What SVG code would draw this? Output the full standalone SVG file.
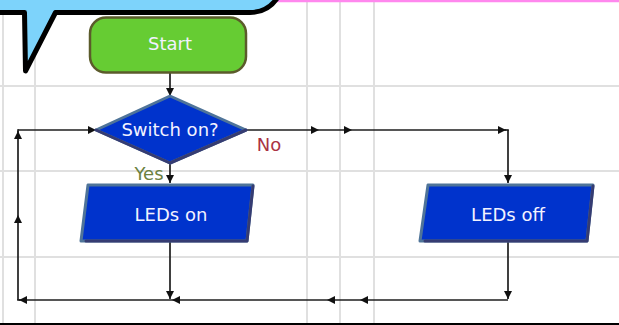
<svg xmlns="http://www.w3.org/2000/svg" width="619" height="325" viewBox="0 0 619 325">
  <style>
    .grid { stroke: #e0e0e0; stroke-width: 2; fill: none; }
    .wire { stroke: #1e1e1e; stroke-width: 1.7; fill: none; marker-end: url(#head); }
    .plain { stroke: #1e1e1e; stroke-width: 1.7; fill: none; }
    .label { font-family: "DejaVu Sans", Verdana, sans-serif; font-size: 18px; fill: #f2f2ff; text-anchor: middle; }
    .io { fill: #0033cc; stroke: #4f7499; stroke-width: 3; stroke-linejoin: round; }
    .shade { fill: none; stroke: #363c72; stroke-width: 3; stroke-linejoin: round; stroke-linecap: round; }
  </style>
  <defs>
    <marker id="head" markerUnits="userSpaceOnUse" markerWidth="9" markerHeight="9" refX="8" refY="4" orient="auto">
      <path d="M0,0 L8,4 L0,8 Z" fill="#111"/>
    </marker>
  </defs>

  <rect width="619" height="325" fill="#ffffff"/>

  <!-- background grid -->
  <g id="grid">
    <line class="grid" x1="3" y1="0" x2="3" y2="325"/>
    <line class="grid" x1="35" y1="0" x2="35" y2="325"/>
    <line class="grid" x1="307" y1="0" x2="307" y2="325"/>
    <line class="grid" x1="340" y1="0" x2="340" y2="325"/>
    <line class="grid" x1="374" y1="0" x2="374" y2="325"/>
    <line class="grid" x1="0" y1="86" x2="619" y2="86"/>
    <line class="grid" x1="0" y1="171" x2="619" y2="171"/>
    <line class="grid" x1="0" y1="257" x2="619" y2="257"/>
  </g>

  <!-- page edges -->
  <line x1="272" y1="1" x2="619" y2="1" stroke="#ff88ee" stroke-width="2.5"/>
  <line x1="0" y1="324" x2="619" y2="324" stroke="#000" stroke-width="2"/>

  <!-- speech bubble -->
  <path id="bubble" d="M-10,-30 L-10,12.5 L24.5,12.5 L25.5,71 L55.5,12.5 L250,12.5 Q268,12.5 278,-3 L278,-30 Z"
        fill="#7dd3fb" stroke="#000" stroke-width="5" stroke-linejoin="round"/>

  <!-- connectors -->
  <g id="connectors">
    <line class="wire" x1="170" y1="73" x2="170" y2="96"/>
    <line class="wire" x1="170" y1="163" x2="170" y2="183"/>
    <line class="wire" x1="247" y1="130" x2="319" y2="130"/>
    <line class="wire" x1="319" y1="130" x2="352" y2="130"/>
    <line class="wire" x1="352" y1="130" x2="506" y2="130"/>
    <line class="plain" x1="505" y1="130" x2="508.8" y2="130"/>
    <line class="wire" x1="508" y1="130" x2="508" y2="183"/>
    <line class="wire" x1="170" y1="242" x2="170" y2="299"/>
    <line class="wire" x1="508" y1="242" x2="508" y2="299"/>
    <line class="wire" x1="508" y1="300" x2="360" y2="300"/>
    <line class="wire" x1="360" y1="300" x2="327" y2="300"/>
    <line class="wire" x1="327" y1="300" x2="172" y2="300"/>
    <line class="wire" x1="172" y1="300" x2="19" y2="300"/>
    <line class="plain" x1="20" y1="300" x2="17.2" y2="300"/>
    <line class="wire" x1="18" y1="300" x2="18" y2="215"/>
    <line class="wire" x1="18" y1="215" x2="18" y2="131"/>
    <line class="plain" x1="18" y1="132" x2="18" y2="129.2"/>
    <line class="wire" x1="18" y1="130" x2="96" y2="130"/>
  </g>

  <!-- start terminal -->
  <g id="start">
    <rect x="90" y="17.5" width="156" height="55" rx="16" fill="#66cc33" stroke="#5b5b2b" stroke-width="2.5"/>
    <text class="label" x="170" y="50">Start</text>
  </g>

  <!-- decision -->
  <g id="switch-on">
    <path d="M96,130 L170,96 L246,130 L170,163 Z" fill="#0033cc" stroke="#4f7499" stroke-width="3" stroke-linejoin="round"/>
    <path class="shade" d="M246,130 L170,163 L96,130"/>
    <text class="label" x="170" y="136">Switch on?</text>
    <text x="269" y="151" font-family="DejaVu Sans, Verdana, sans-serif" font-size="18" fill="#aa3344" text-anchor="middle">No</text>
    <text x="149" y="180" font-family="DejaVu Sans, Verdana, sans-serif" font-size="18" fill="#6a8040" text-anchor="middle">Yes</text>
  </g>

  <!-- outputs -->
  <g id="leds-on">
    <path class="io" d="M88,185 L253,185 L247,241 L81,241 Z"/>
    <path class="shade" d="M253,186 L247,241 L86,241"/>
    <text class="label" x="171" y="221">LEDs on</text>
  </g>
  <g id="leds-off">
    <path class="io" d="M428,185 L593,185 L587,241 L420,241 Z"/>
    <path class="shade" d="M593,186 L587,241 L425,241"/>
    <text class="label" x="508" y="221">LEDs off</text>
  </g>
</svg>
